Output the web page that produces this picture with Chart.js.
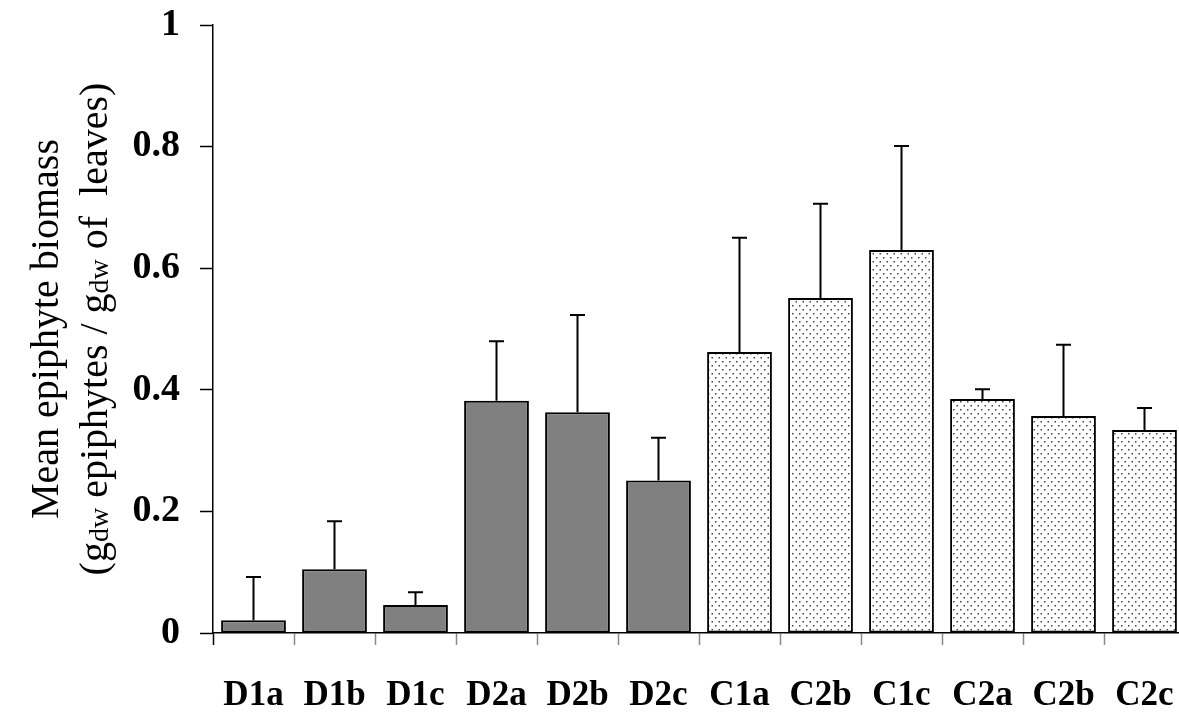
<!DOCTYPE html>
<html>
<head>
<meta charset="utf-8">
<script src="https://cdn.jsdelivr.net/npm/chart.js@4.4.1/dist/chart.umd.min.js"></script>
<style>
  html, body { margin: 0; padding: 0; background: #fff; overflow: hidden; }
  #wrap { width: 1185px; height: 715px; }
</style>
</head>
<body>
<div id="wrap"><canvas id="biomassChart"></canvas></div>
<script>
const sites = ["D1a", "D1b", "D1c", "D2a", "D2b", "D2c", "C1a", "C2b", "C1c", "C2a", "C2b", "C2c"];
const meanBiomass = [0.021, 0.105, 0.046, 0.382, 0.363, 0.251, 0.462, 0.551, 0.630, 0.385, 0.357, 0.334];
const errBiomass = [0.071, 0.079, 0.021, 0.098, 0.160, 0.070, 0.188, 0.155, 0.171, 0.016, 0.117, 0.036];
const yTicks = [0, 0.2, 0.4, 0.6, 0.8, 1];

// dotted fill for the C sites
function dotPattern() {
  const c = document.createElement("canvas");
  c.width = 7;
  c.height = 8;
  const g = c.getContext("2d");
  g.fillStyle = "#fff";
  g.fillRect(0, 0, 7, 8);
  g.fillStyle = "#444";
  g.fillRect(1, 1, 1.5, 1.5);
  g.fillRect(4.5, 5, 1.5, 1.5);
  return document.getElementById("biomassChart").getContext("2d").createPattern(c, "repeat");
}
const dots = dotPattern();
const fills = sites.map((s, i) => (i < 6 ? "#808080" : dots));

const errorBars = {
  id: "errorBars",
  afterDatasetsDraw(chart) {
    const ctx = chart.ctx;
    const y = chart.scales.y;
    const bars = chart.getDatasetMeta(0).data;
    ctx.save();
    ctx.strokeStyle = "#000";
    ctx.lineWidth = 2;
    bars.forEach((bar, i) => {
      const top = y.getPixelForValue(meanBiomass[i] + errBiomass[i]);
      ctx.beginPath();
      ctx.moveTo(bar.x, bar.y);
      ctx.lineTo(bar.x, top);
      ctx.moveTo(bar.x - 7.5, top);
      ctx.lineTo(bar.x + 7.5, top);
      ctx.stroke();
    });
    ctx.restore();
  }
};

// y title with small "dw" subscripts
const yTitle = {
  id: "yTitle",
  afterDraw(chart) {
    const ctx = chart.ctx;
    const cy = (chart.chartArea.top + chart.chartArea.bottom) / 2;
    const big = "40px 'Liberation Serif'";
    const small = "28px 'Liberation Serif'";
    ctx.save();
    ctx.fillStyle = "#000";
    ctx.textBaseline = "middle";
    ctx.textAlign = "center";
    ctx.translate(47, cy);
    ctx.rotate(-Math.PI / 2);
    ctx.font = big;
    ctx.fillText("Mean epiphyte biomass", 0, 0);
    ctx.restore();

    const parts = [
      ["(g", big, 0], ["dw", small, 5], [" epiphytes / g", big, 0], ["dw", small, 5], [" of  leaves)", big, 0]
    ];
    ctx.save();
    ctx.fillStyle = "#000";
    ctx.textBaseline = "middle";
    ctx.textAlign = "left";
    let total = 0;
    parts.forEach(p => { ctx.font = p[1]; total += ctx.measureText(p[0]).width; });
    ctx.translate(96, cy);
    ctx.rotate(-Math.PI / 2);
    let x = -total / 2;
    parts.forEach(p => {
      ctx.font = p[1];
      ctx.fillText(p[0], x, p[2]);
      x += ctx.measureText(p[0]).width;
    });
    ctx.restore();
  }
};

new Chart(document.getElementById("biomassChart"), {
  type: "bar",
  data: {
    labels: sites,
    datasets: [{
      data: meanBiomass,
      backgroundColor: fills,
      borderColor: "#000",
      borderWidth: 2,
      borderSkipped: false,
      barPercentage: 0.8,
      categoryPercentage: 1
    }]
  },
  options: {
    responsive: true,
    maintainAspectRatio: false,
    animation: false,
    layout: { padding: { top: 25, left: 0, right: 0, bottom: 0 } },
    plugins: { legend: { display: false }, tooltip: { enabled: false } },
    scales: {
      x: {
        offset: true,
        grid: {
          offset: true,
          drawOnChartArea: false,
          tickLength: 12,
          tickWidth: 1.5,
          tickColor: ctx => (ctx.index === 0 ? "#000" : "#888")
        },
        border: { color: "#000", width: 1.5 },
        ticks: {
          color: "#000",
          padding: 30,
          maxRotation: 0,
          autoSkip: false,
          font: { family: "'Liberation Serif'", size: 35, weight: "bold" }
        },
        afterFit(scale) {
          scale.height = 82;
          scale.paddingLeft = 0;
          scale.paddingRight = 0;
        }
      },
      y: {
        min: 0,
        max: 1,
        afterBuildTicks(scale) { scale.ticks = yTicks.map(v => ({ value: v })); },
        grid: {
          drawOnChartArea: false,
          tickLength: 13,
          tickWidth: 1.5,
          tickColor: "#000"
        },
        border: { color: "#000", width: 1.5 },
        ticks: {
          color: "#000",
          padding: 20,
          font: { family: "'Liberation Serif'", size: 38, weight: "bold" },
          callback: v => String(v)
        },
        afterFit(scale) {
          scale.width = 213;
          scale.paddingTop = 0;
          scale.paddingBottom = 0;
        }
      }
    }
  },
  plugins: [errorBars, yTitle]
});
</script>
</body>
</html>
